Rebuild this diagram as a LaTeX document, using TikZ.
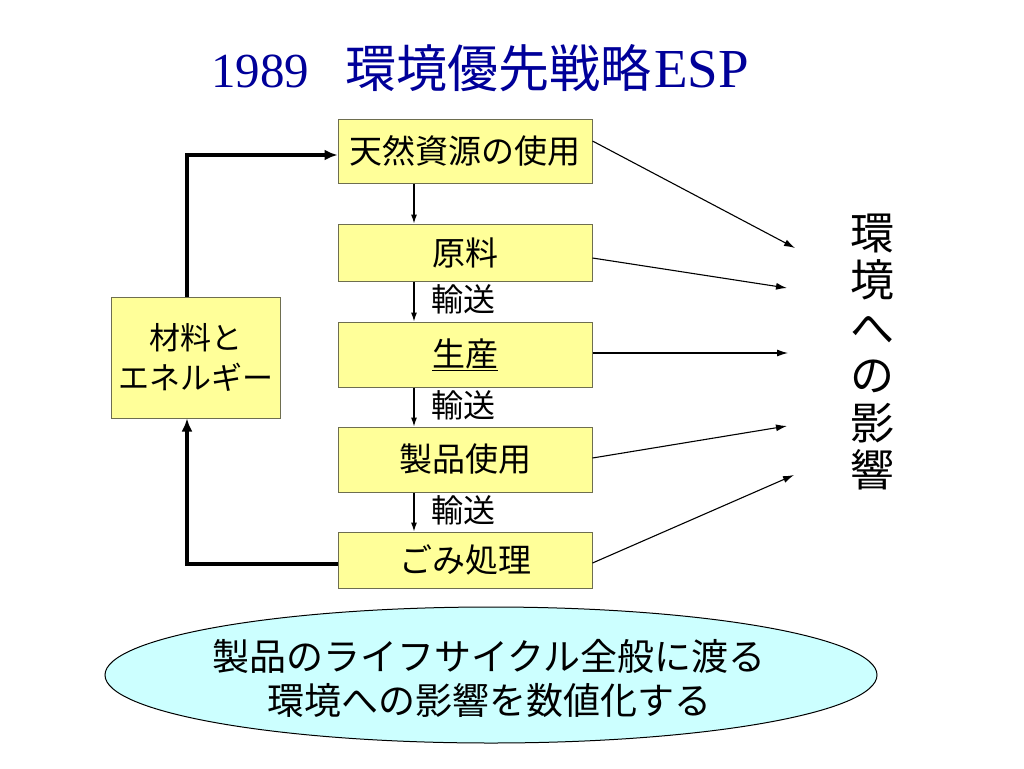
\documentclass[tikz,border=0pt]{standalone}
\usepackage{fontspec}
\setmainfont{Liberation Serif}
\newfontfamily\jp{Noto Sans CJK JP}
\usetikzlibrary{arrows.meta,shapes.geometric}
\definecolor{boxfill}{HTML}{FFFF99}
\definecolor{boxline}{HTML}{6E6E50}
\definecolor{ellfill}{HTML}{CCFFFF}
\definecolor{titleblue}{HTML}{000099}
\tikzset{
  stagebox/.style={draw=boxline, line width=1pt, fill=boxfill, minimum width=254pt, inner sep=0pt, font=\jp\fontsize{33}{38}\selectfont, text=black},
  thinarrow/.style={line width=1.1pt, -{Latex[length=11pt,width=7pt]}},
  downarrow/.style={line width=1.1pt, -{Latex[length=9pt,width=6pt]}},
  thickarrow/.style={line width=3.5pt, -{Latex[length=13pt,width=11pt]}},
  translabel/.style={font=\jp\fontsize{32}{34}\selectfont},
}
\begin{document}
\begin{tikzpicture}[x=1pt,y=-1pt]
\useasboundingbox (0,0) rectangle (1024,768);
% title
\node[anchor=base west, inner sep=0pt, text=titleblue, font=\fontsize{49}{52}\selectfont] (title) at (211,87) {1989\hspace{36pt}{\jp\fontsize{51}{52}\selectfont 環境優先戦略}\hspace{3pt}{\fontsize{55}{56}\selectfont ESP}};
% stage boxes
\node[stagebox, minimum height=64pt] (res) at (465,151) {天然資源の使用};
\node[stagebox, minimum height=57pt] (raw) at (465,252.5) {原料};
\node[stagebox, minimum height=65pt] (prod) at (465,354.5) {\underline{生産}};
\node[stagebox, minimum height=65pt] (use) at (465,459.5) {製品使用};
\node[stagebox, minimum height=56pt] (waste) at (465,560) {ごみ処理};
% materials box
\node[draw=boxline, line width=1pt, fill=boxfill, minimum width=169pt, minimum height=121pt, inner sep=0pt, align=center, font=\jp\fontsize{31}{40}\selectfont] (mat) at (195.5,357.5) {材料と\\エネルギー};
% vertical arrows
\draw[downarrow] (res.south -| 414,0) -- (raw.north -| 414,0);
\draw[downarrow] (raw.south -| 414,0) -- node[translabel, right=14pt, pos=0.45] (t1) {輸送} (prod.north -| 414,0);
\draw[downarrow] (prod.south -| 414,0) -- node[translabel, right=14pt, pos=0.45] (t2) {輸送} (use.north -| 414,0);
\draw[downarrow] (use.south -| 414,0) -- node[translabel, right=14pt, pos=0.45] (t3) {輸送} (waste.north -| 414,0);
% thick loop
\coordinate (c1) at (187,564);
\coordinate (c2) at (187,155);
\draw[thickarrow] (waste.west |- c1) -- (c1) -- (mat.south -| c1);
\draw[thickarrow] (mat.north -| c2) -- (c2) -- (res.west |- c2);
% impact arrows
\coordinate (e1) at (795,248);
\coordinate (e2) at (787,288);
\coordinate (e3) at (788,353);
\coordinate (e4) at (787,426);
\coordinate (e5) at (794,475);
\draw[thinarrow] (res.east |- 0,141) -- (e1);
\draw[thinarrow] (raw.east |- 0,258) -- (e2);
\draw[thinarrow] (prod.east |- e3) -- (e3);
\draw[thinarrow] (use.east |- 0,458) -- (e4);
\draw[thinarrow] (waste.east |- 0,563) -- (e5);
% vertical text
\node[align=center, inner sep=0pt, font=\jp\fontsize{44}{47.5}\selectfont] (impact) at (872,352) {環\\境\\へ\\の\\影\\響};
% ellipse
\node[ellipse, draw=black, line width=1pt, fill=ellfill, minimum width=772pt, minimum height=136pt, inner sep=0pt] (ell) at (491,675) {};
\node[align=center, inner sep=0pt, font=\jp\fontsize{37}{44}\selectfont] (elltext) at (489,678) {製品のライフサイクル全般に渡る\\環境への影響を数値化する};
\end{tikzpicture}
\end{document}
